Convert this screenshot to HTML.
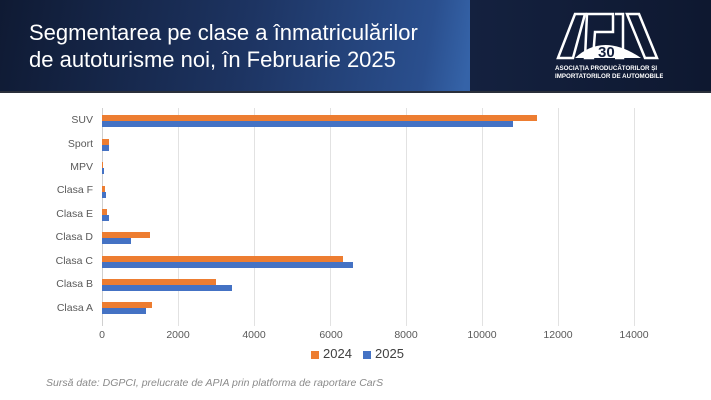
<!DOCTYPE html>
<html><head><meta charset="utf-8"><style>
body{margin:0;width:711px;height:400px;overflow:hidden;background:#fff;font-family:"Liberation Sans",sans-serif;position:relative}
.hdr{position:absolute;left:0;top:0;width:711px;height:91px;background:linear-gradient(100deg,#0f1a33 0%,#1d3462 35%,#2a4f8e 60%,#3563a8 66%);}
.hdr2{position:absolute;left:470px;top:0;width:241px;height:91px;background:linear-gradient(90deg,#14213f,#0e1830);}
.line{position:absolute;left:0;top:91px;width:711px;height:2px;background:#2a2f3a}
.t{position:absolute;left:29px;top:19px;color:#fff;font-size:22px;line-height:27px}
.g{position:absolute;top:108px;width:1px;height:218px;background:#e2e2e2}
.b{position:absolute;height:6px}
.o{background:#ed7d31}.bl{background:#4472c4}
.cl{position:absolute;right:618px;font-size:10.5px;color:#595959;text-align:right}
.xl{position:absolute;top:329px;font-size:10.5px;color:#595959;width:50px;margin-left:-25px;text-align:center}
</style></head><body>
<div class="hdr"></div><div class="hdr2"></div><div class="line"></div>
<div class="t">Segmentarea pe clase a înmatriculărilor<br>de autoturisme noi, în Februarie 2025</div>
<svg style="position:absolute;left:553px;top:10px" width="110" height="75" viewBox="0 0 110 75">
<g fill="none" stroke="#fff" stroke-width="2.5">
<path d="M5 48 L22 4 L32 4 L20 48 Z"/><path d="M34 4 L60 4 L60 22 L42 22 L40 48 L32 48 Z"/>
<path d="M62 4 L70 4 L70 48 L62 48"/><path d="M74 4 L86 4 L104 48 L92 48 Z"/>
</g>
<path d="M22 48 Q50 22 88 48 Z" fill="#fff"/>
<text x="45" y="47" font-family="Liberation Sans" font-weight="bold" font-size="15" fill="#14213f">30</text>
<text x="66" y="47" font-family="Liberation Sans" font-weight="bold" font-size="6" fill="#fff">ANI</text>
<text x="2" y="60" font-family="Liberation Sans" font-weight="bold" font-size="6.2" fill="#fff">ASOCIAȚIA PRODUCĂTORILOR ȘI</text>
<text x="2" y="68" font-family="Liberation Sans" font-weight="bold" font-size="6.2" fill="#fff">IMPORTATORILOR DE AUTOMOBILE</text>
</svg>
<div class="g" style="left:102px;background:#d0d0d0"></div>
<div class="g" style="left:178px"></div><div class="g" style="left:254px"></div><div class="g" style="left:330px"></div>
<div class="g" style="left:406px"></div><div class="g" style="left:482px"></div><div class="g" style="left:558px"></div><div class="g" style="left:634px"></div>
<!-- bars -->
<div class="b o" style="left:102px;top:115px;width:435px"></div><div class="b bl" style="left:102px;top:121px;width:411px"></div>
<div class="b o" style="left:102px;top:139px;width:7px"></div><div class="b bl" style="left:102px;top:145px;width:7px"></div>
<div class="b o" style="left:102px;top:162px;width:1px"></div><div class="b bl" style="left:102px;top:168px;width:2px"></div>
<div class="b o" style="left:102px;top:186px;width:3px"></div><div class="b bl" style="left:102px;top:192px;width:4px"></div>
<div class="b o" style="left:102px;top:209px;width:5px"></div><div class="b bl" style="left:102px;top:215px;width:7px"></div>
<div class="b o" style="left:102px;top:232px;width:48px"></div><div class="b bl" style="left:102px;top:238px;width:29px"></div>
<div class="b o" style="left:102px;top:256px;width:241px"></div><div class="b bl" style="left:102px;top:262px;width:251px"></div>
<div class="b o" style="left:102px;top:279px;width:114px"></div><div class="b bl" style="left:102px;top:285px;width:130px"></div>
<div class="b o" style="left:102px;top:302px;width:50px"></div><div class="b bl" style="left:102px;top:308px;width:44px"></div>
<div class="cl" style="top:114px">SUV</div><div class="cl" style="top:138px">Sport</div><div class="cl" style="top:161px">MPV</div>
<div class="cl" style="top:184px">Clasa F</div><div class="cl" style="top:208px">Clasa E</div><div class="cl" style="top:231px">Clasa D</div>
<div class="cl" style="top:255px">Clasa C</div><div class="cl" style="top:278px">Clasa B</div><div class="cl" style="top:302px">Clasa A</div>
<div class="xl" style="left:102px">0</div><div class="xl" style="left:178px">2000</div><div class="xl" style="left:254px">4000</div>
<div class="xl" style="left:331px">6000</div><div class="xl" style="left:406px">8000</div><div class="xl" style="left:482px">10000</div>
<div class="xl" style="left:558px">12000</div><div class="xl" style="left:634px">14000</div>
<div style="position:absolute;left:311px;top:351px;width:8px;height:8px;background:#ed7d31"></div>
<div style="position:absolute;left:323px;top:346px;font-size:13px;color:#404040">2024</div>
<div style="position:absolute;left:363px;top:351px;width:8px;height:8px;background:#4472c4"></div>
<div style="position:absolute;left:375px;top:346px;font-size:13px;color:#404040">2025</div>
<div style="position:absolute;left:46px;top:377px;font-size:10.5px;color:#8a8a8a;font-style:italic">Sursă date: DGPCI, prelucrate de APIA prin platforma de raportare CarS</div>
</body></html>
